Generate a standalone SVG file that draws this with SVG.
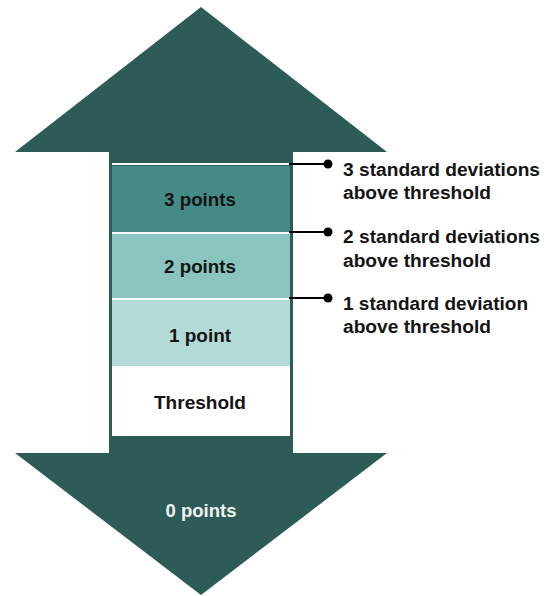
<svg xmlns="http://www.w3.org/2000/svg" width="546" height="596" viewBox="0 0 546 596">
<style>
.dark{fill:#2d5b57}
.lbl{font-family:"Liberation Sans",Arial,sans-serif;font-weight:bold;font-size:18px;fill:#141414}
.ctr{text-anchor:middle}
.conn line{stroke:#000;stroke-width:2}
.conn circle{fill:#000}
</style>
<rect width="546" height="596" fill="#fff"/>
<g id="up-arrow">
<polygon class="dark" points="201,7 387,152 293,152 293,453 109,453 109,152 15,152"/>
</g>
<g id="down-arrow">
<polygon class="dark" points="15,453 387,453 201,595"/>
<text class="lbl ctr" x="201" y="517" style="fill:#f2f2f2" textLength="71" lengthAdjust="spacingAndGlyphs">0 points</text>
</g>
<g id="band-top">
<rect x="112" y="163" width="178" height="2" fill="#fff"/>
</g>
<g id="band-3">
<rect x="112" y="166" width="178" height="66" fill="#458b85"/>
<text class="lbl ctr" x="200" y="206" textLength="72" lengthAdjust="spacingAndGlyphs">3 points</text>
</g>
<rect x="112" y="232" width="178" height="2" fill="#fff"/>
<g id="band-2">
<rect x="112" y="234" width="178" height="64" fill="#8ac5bf"/>
<text class="lbl ctr" x="200" y="273" textLength="72" lengthAdjust="spacingAndGlyphs">2 points</text>
</g>
<rect x="112" y="298" width="178" height="2" fill="#fff"/>
<g id="band-1">
<rect x="112" y="300" width="178" height="66" fill="#b2dad7"/>
<text class="lbl ctr" x="200" y="342" textLength="62" lengthAdjust="spacingAndGlyphs">1 point</text>
</g>
<g id="threshold">
<rect x="112" y="366" width="178" height="70" fill="#fff"/>
<text class="lbl ctr" x="200" y="409" textLength="92" lengthAdjust="spacingAndGlyphs">Threshold</text>
</g>
<g id="connectors" class="conn">
<line x1="289" y1="164" x2="328" y2="164"/>
<circle cx="328" cy="164" r="4.5"/>
<line x1="289" y1="232" x2="328" y2="232"/>
<circle cx="328" cy="232" r="4.5"/>
<line x1="289" y1="298" x2="328" y2="298"/>
<circle cx="328" cy="298" r="4.5"/>
</g>
<g id="label-3sd">
<text class="lbl" x="343" y="176" textLength="197" lengthAdjust="spacingAndGlyphs">3 standard deviations</text>
<text class="lbl" x="343" y="199" textLength="148" lengthAdjust="spacingAndGlyphs">above threshold</text>
</g>
<g id="label-2sd">
<text class="lbl" x="343" y="243" textLength="197" lengthAdjust="spacingAndGlyphs">2 standard deviations</text>
<text class="lbl" x="343" y="267" textLength="148" lengthAdjust="spacingAndGlyphs">above threshold</text>
</g>
<g id="label-1sd">
<text class="lbl" x="343" y="310" textLength="185" lengthAdjust="spacingAndGlyphs">1 standard deviation</text>
<text class="lbl" x="343" y="333" textLength="148" lengthAdjust="spacingAndGlyphs">above threshold</text>
</g>
</svg>
